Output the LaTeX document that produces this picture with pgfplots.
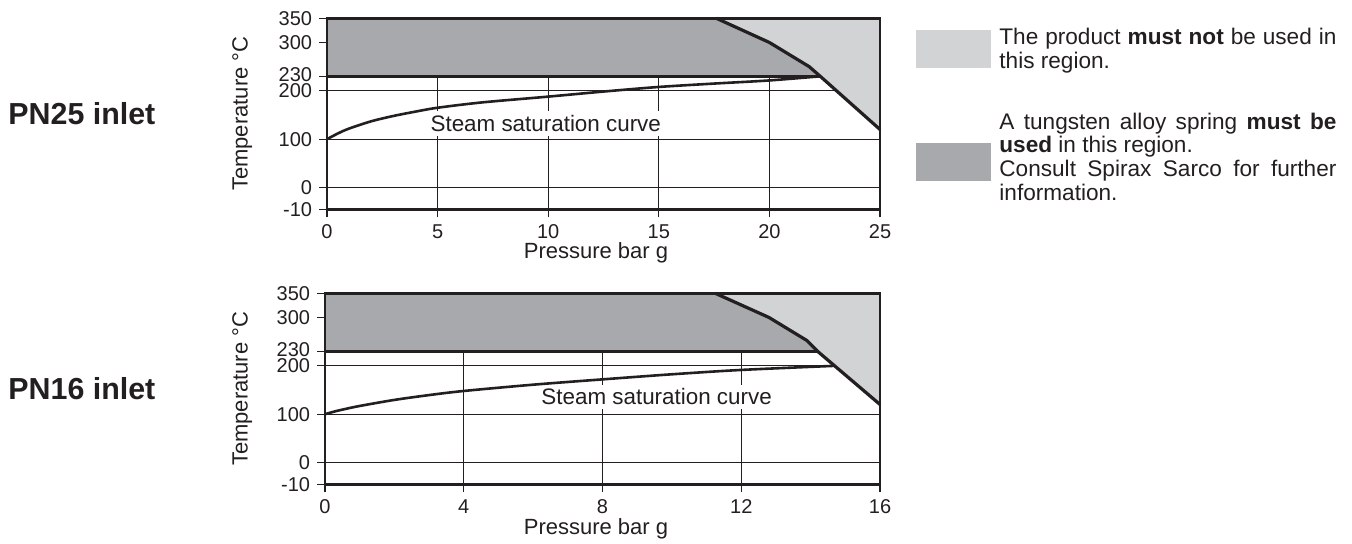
\documentclass[border=0pt]{standalone}
\usepackage{fontspec}
\setmainfont{Liberation Sans}
\usepackage{pgfplots}
\pgfplotsset{compat=1.18}
\definecolor{lightreg}{RGB}{209,211,212}
\definecolor{darkreg}{RGB}{167,169,172}
\definecolor{ink}{RGB}{35,31,32}

\pgfplotsset{
 valvechart/.style={
  scale only axis, height=95.5pt,
  ymin=-45, ymax=350,
  ytick={-45,0,100,200,230,300,350},
  yticklabels={-10,0,100,200,\raisebox{1.8pt}{230},300,350},
  tick align=outside, major tick length=4pt,
  xtick pos=left, ytick pos=left,
  tick style={line width=0.6pt, ink},
  grid=major, grid style={line width=0.55pt, ink},
  axis line style={line width=1.4pt, ink},
  tick label style={font=\fontsize{10}{12}\selectfont, text=ink},
  yticklabel style={inner sep=0pt, xshift=-3.3pt},
  /pgf/number format/assume math mode=true,
  clip=false,
 }
}

\begin{document}
\begin{tikzpicture}
\path[use as bounding box] (0,0) rectangle (676pt,-272pt);

% ---------- PN25 ----------
\begin{axis}[valvechart, at={(163.5pt,-104.65pt)}, anchor=south west,
  width=276.5pt, xmin=0, xmax=25, xtick={0,5,10,15,20,25}]
\addplot[fill=darkreg, draw=none] coordinates {(0,230)(22.3,230)(21.8,250)(20,300)(17.6,350)(0,350)} -- cycle;
\addplot[fill=lightreg, draw=none] coordinates {(17.6,350)(20,300)(21.8,250)(22.3,230)(25,120)(25,350)} -- cycle;
\node[fill=white, inner sep=2pt, font=\fontsize{11.2}{13}\selectfont, text=ink] at (axis cs:9.89,132) {Steam saturation curve};
\addplot[ink, line width=1.3pt, smooth] coordinates {(0,100)(0.5,112)(1,122)(2,137)(3,148)(4,157)(5,165)(7,176)(10,188)(12.5,198.5)(15,208)(17.5,215)(20,221.5)(22.3,230)};
\addplot[ink, line width=1.5pt] coordinates {(0,230)(22.3,230)};
\addplot[ink, line width=1.6pt, line join=round] coordinates {(17.6,350)(20,300)(21.8,250)(22.3,230)(25,120)};
\addplot[ink, line width=1.4pt] coordinates {(0,-45)(25,-45)(25,350)(0,350)} -- cycle;
\end{axis}

% ---------- PN16 ----------
\begin{axis}[valvechart, at={(162.5pt,-242.15pt)}, anchor=south west,
  width=277.5pt, xmin=0, xmax=16, xtick={0,4,8,12,16}]
\addplot[fill=darkreg, draw=none] coordinates {(0,230)(14.2,230)(13.9,252)(12.8,300)(11.25,350)(0,350)} -- cycle;
\addplot[fill=lightreg, draw=none] coordinates {(11.25,350)(12.8,300)(13.9,252)(14.2,230)(16,120)(16,350)} -- cycle;
\node[fill=white, inner sep=2pt, font=\fontsize{11.2}{13}\selectfont, text=ink] at (axis cs:9.56,136) {Steam saturation curve};
\addplot[ink, line width=1.3pt, smooth] coordinates {(0,100)(0.3,106)(0.6,111)(1,117)(2,129.5)(3,139.5)(4,148)(6,161)(8,172)(10,182.5)(12,191.5)(14.7,200)};
\addplot[ink, line width=1.5pt] coordinates {(0,230)(14.2,230)};
\addplot[ink, line width=1.6pt, line join=round] coordinates {(11.25,350)(12.8,300)(13.9,252)(14.2,230)(16,120)};
\addplot[ink, line width=1.4pt] coordinates {(0,-45)(16,-45)(16,350)(0,350)} -- cycle;
\end{axis}

\begin{scope}[x=0.5pt,y=-0.5pt, text=ink]
\node[anchor=base west, inner sep=0pt, font=\fontsize{15.2}{18}\selectfont\bfseries] at (8,125) {PN25 inlet};
\node[anchor=base west, inner sep=0pt, font=\fontsize{15.2}{18}\selectfont\bfseries] at (8,400) {PN16 inlet};
\node[rotate=90, anchor=base, inner sep=0pt, font=\fontsize{11}{13}\selectfont] at (247.5,113.8) {Temperature °C};
\node[rotate=90, anchor=base, inner sep=0pt, font=\fontsize{11}{13}\selectfont] at (247.5,388.8) {Temperature °C};
\node[anchor=base, inner sep=0pt, font=\fontsize{11}{13}\selectfont] at (596,259) {Pressure bar g};
\node[anchor=base, inner sep=0pt, font=\fontsize{11}{13}\selectfont] at (596,534) {Pressure bar g};
\fill[lightreg] (916,30) rectangle (991,68);
\fill[darkreg] (916,143) rectangle (991,181);
\begin{scope}[every node/.style={anchor=base west, inner sep=0pt, font=\fontsize{11.3}{13}\selectfont}]
\node at (999,45) {\makebox[168.5pt][s]{The product \textbf{must not} be used in}};
\node at (999,68.3) {this region.};
\node at (999,129.3) {\makebox[168.5pt][s]{A tungsten alloy spring \textbf{must be}}};
\node at (999,153) {\textbf{used} in this region.};
\node at (999,177) {\makebox[168.5pt][s]{Consult Spirax Sarco for further}};
\node at (999,201) {information.};
\end{scope}
\end{scope}
\end{tikzpicture}
\end{document}
